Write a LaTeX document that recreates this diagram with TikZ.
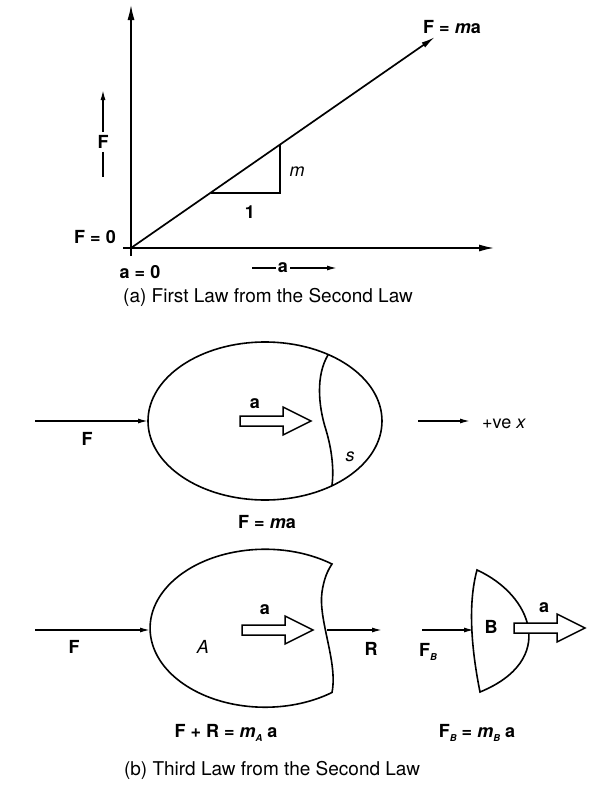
\documentclass[tikz,border=0pt]{standalone}
\usepackage{fontspec}
\setmainfont{TeX Gyre Heros}
\usetikzlibrary{arrows.meta}
\newcommand\lowsub[1]{\raisebox{-0.45ex}{\fontsize{9.5}{9.5}\selectfont\itshape #1}}
\begin{document}
\begin{tikzpicture}[x=1pt,y=-1pt,
  lbl/.style={font=\fontsize{18}{20}\selectfont\bfseries, inner sep=0pt},
  itl/.style={font=\fontsize{18}{20}\selectfont\itshape, inner sep=0pt},
  captext/.style={font=\fontsize{19}{21}\selectfont, inner sep=0pt},
  arr/.style={line width=1.4pt, -{Latex[length=10pt,width=5pt]}},
  axis/.style={line width=2pt, -{Latex[length=16pt,width=7pt]}},
  outline/.style={line width=1.6pt},
  hollow arrow/.pic={\draw[line width=1.5pt, fill=white, line join=miter]
     (0,-5) -- (43,-5) -- (43,-14) -- (71,0) -- (43,14) -- (43,5) -- (0,5) -- cycle;}]
\useasboundingbox (0,0) rectangle (604,790);
\fill[white] (0,0) rectangle (604,790);

% ---------- (a) ----------
\coordinate (O) at (131,248);
\coordinate (ytop) at (131,4);
\coordinate (ybot) at (131,256);
\coordinate (xleft) at (123,248);
\coordinate (xright) at (495,248);
\coordinate (lineEnd) at (435,37);
\draw[axis] (ybot) -- (ytop);
\draw[axis] (xleft) -- (xright);
\draw[line width=1.7pt, -{Latex[length=14pt,width=6pt]}] (O) -- (lineEnd);
\coordinate (t1) at (211,193);
\coordinate (t2) at (280,193);
\coordinate (t3) at (280,145);
\draw[line width=1.4pt] (t1) -- (t2) -- (t3);
\node[lbl] (Fma) at (452,27) {F = \textit{m}a};
\node[itl] (m) at (297,172) {m};
\node[lbl] (one) at (250,212) {1};
\node[lbl] (Fv) at (103,142) {F};
\coordinate (Fvtop) at (103,90);
\coordinate (Fvbot) at (103,177);
\draw[line width=1.5pt, -{Latex[length=10pt,width=5pt]}] ([yshift=3pt]Fv.north) -- (Fvtop);
\draw[line width=1.5pt] ([yshift=-3pt]Fv.south) -- (Fvbot);
\node[lbl] (F0) at (95,237) {F = 0};
\node[lbl] (a0) at (140,272) {a = 0};
\node[lbl] (ax) at (283,268) {a};
\coordinate (axl) at (252,268);
\coordinate (axr) at (337,268);
\draw[line width=1.4pt] (axl) -- ([xshift=-2pt]ax.west);
\draw[arr] ([xshift=2pt]ax.east) -- (axr);
\node[captext] (capa) at (268,297) {(a) First Law from the Second Law};

% ---------- (b) top ----------
\draw[outline] (265,421) ellipse[x radius=117, y radius=79];
\draw[outline] (328,355) .. controls (316,375) and (318,405) .. (326,430)
   .. controls (332,450) and (334,470) .. (332,485);
\coordinate (F1s) at (35,421);
\coordinate (F1e) at (148,421);
\draw[arr] (F1s) -- (F1e);
\node[lbl] (F1) at (87,439) {F};
\pic at (240,421) {hollow arrow};
\node[lbl] (a1) at (255,404) {a};
\node[itl] (s) at (350,457) {s};
\coordinate (xs) at (418,421);
\coordinate (xe) at (470,421);
\draw[arr] (xs) -- (xe);
\node[font=\fontsize{18}{20}\selectfont, inner sep=0pt, anchor=west] (ve) at (482,424) {+ve \textit{x}};
\node[lbl] (eq1) at (267,522) {F = \textit{m}a};

% ---------- (b) bottom ----------
\draw[outline] (332,564) arc[start angle=-54.4, end angle=-305.6, x radius=115, y radius=79]
   .. controls (338,662) and (318,620) .. (322,592)
   .. controls (324,578) and (328,570) .. (332,564) -- cycle;
\coordinate (F2s) at (35,630);
\coordinate (F2e) at (150,630);
\draw[arr] (F2s) -- (F2e);
\node[lbl] (F2) at (74,647) {F};
\node[itl] (A) at (203,647) {A};
\pic at (242,630) {hollow arrow};
\node[lbl] (a2) at (265,610) {a};
\coordinate (Rs) at (327,630);
\coordinate (Re) at (382,630);
\draw[arr] (Rs) -- (Re);
\node[lbl] (R) at (371,649) {R};

\draw[outline] (477,570) .. controls (466,610) and (474,662) .. (480,692)
   .. controls (558,660) and (532,595) .. (477,570) -- cycle;
\coordinate (FBs) at (422,630);
\coordinate (FBe) at (474,630);
\draw[arr] (FBs) -- (FBe);
\node[lbl] (FB) at (428,652) {F\lowsub{B}};
\node[lbl] (B) at (491,627) {B};
\pic at (514,628) {hollow arrow};
\node[lbl] (a3) at (544,608) {a};

\node[lbl] (eq2) at (226,733) {F + R = \textit{m}\lowsub{A} a};
\node[lbl] (eq3) at (477,733) {F\lowsub{B} = \textit{m}\lowsub{B} a};
\node[captext] (capb) at (272,770) {(b) Third Law from the Second Law};
\end{tikzpicture}
\end{document}
